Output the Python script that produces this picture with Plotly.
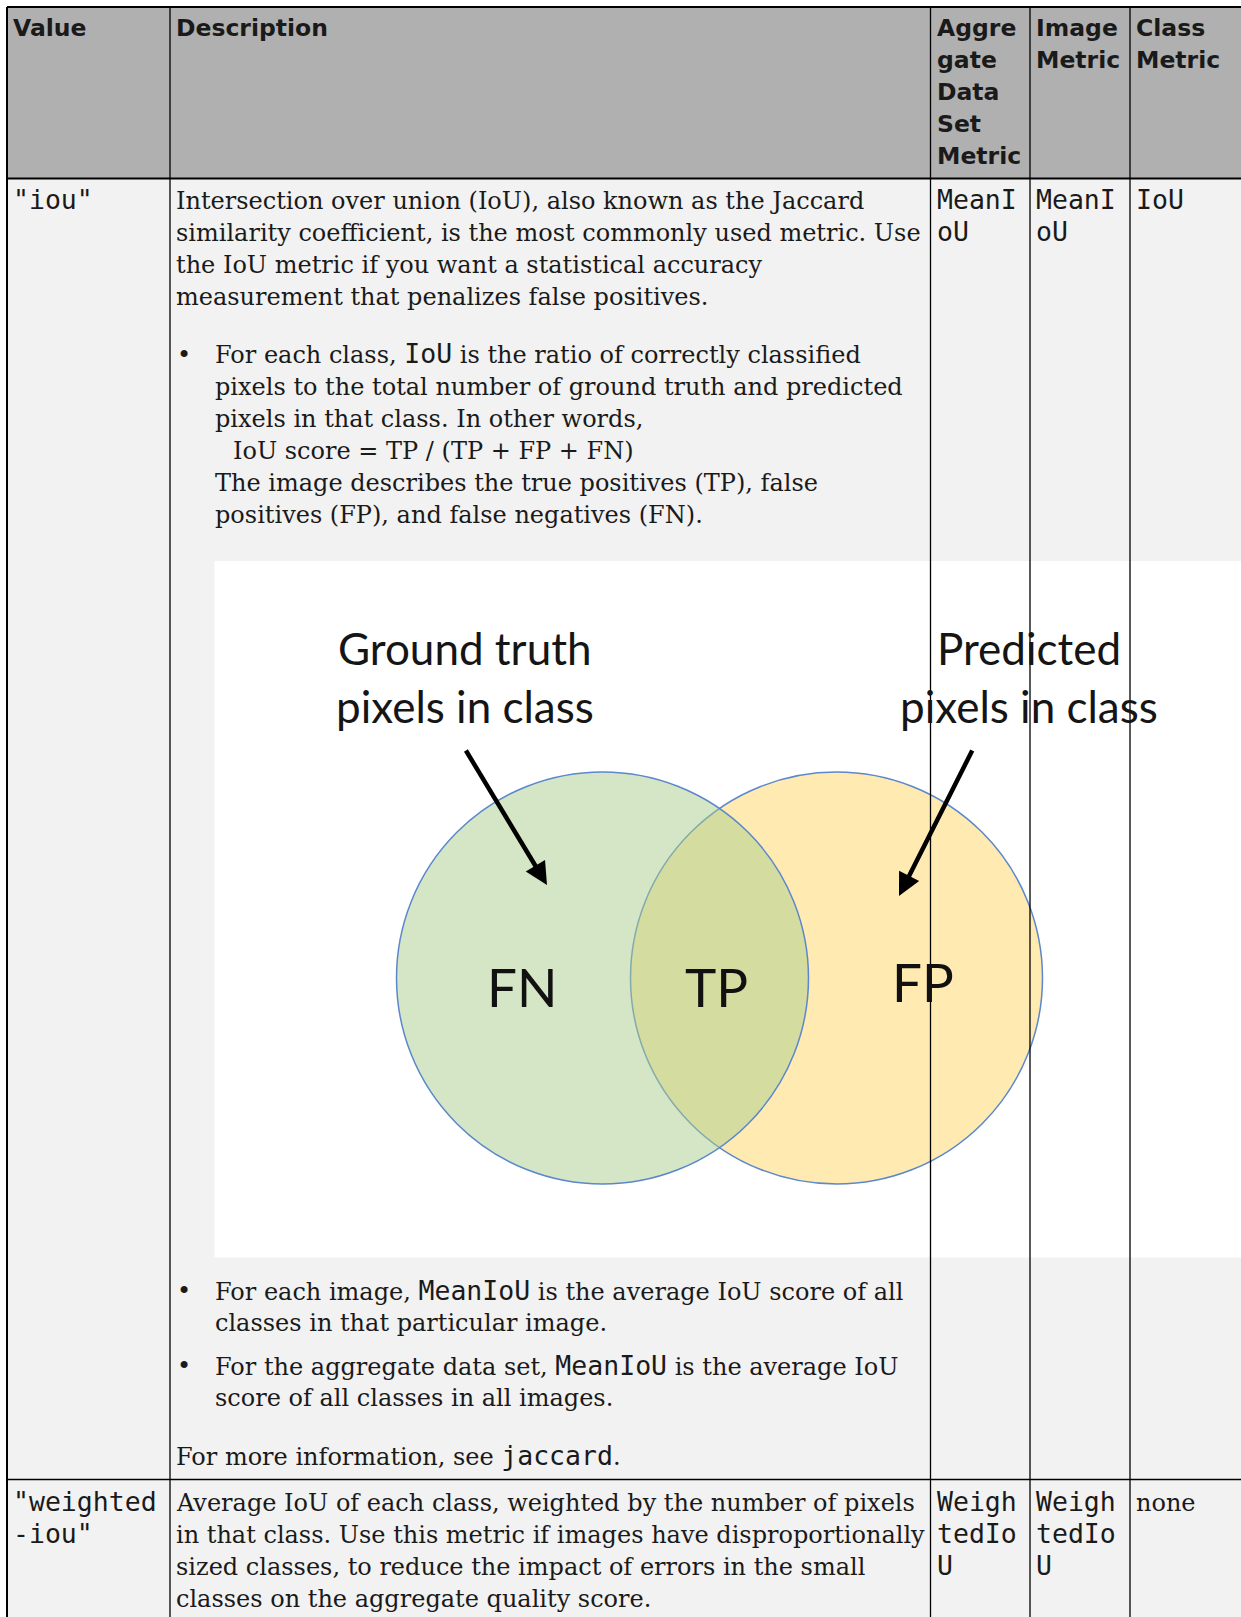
import re
import numpy as np
import plotly.graph_objects as go

# ---------------- table content ----------------
header_value = ["Value"]
header_desc = ["Description"]
header_agg = ["Aggre", "gate", "Data", "Set", "Metric"]
header_img = ["Image", "Metric"]
header_cls = ["Class", "Metric"]

iou_value = ['"iou"']
iou_intro = [
    "Intersection over union (IoU), also known as the Jaccard",
    "similarity coefficient, is the most commonly used metric. Use",
    "the IoU metric if you want a statistical accuracy",
    "measurement that penalizes false positives.",
]
iou_bullet_class = [
    "For each class, `IoU` is the ratio of correctly classified",
    "pixels to the total number of ground truth and predicted",
    "pixels in that class. In other words,",
    "  IoU score = TP / (TP + FP + FN)",
    "The image describes the true positives (TP), false",
    "positives (FP), and false negatives (FN).",
]
iou_bullet_image = [
    "For each image, `MeanIoU` is the average IoU score of all",
    "classes in that particular image.",
]
iou_bullet_agg = [
    "For the aggregate data set, `MeanIoU` is the average IoU",
    "score of all classes in all images.",
]
iou_more = ["For more information, see `jaccard`."]
iou_agg = ["MeanI", "oU"]
iou_img = ["MeanI", "oU"]
iou_cls = ["IoU"]

wiou_value = ['"weighted', '-iou"']
wiou_desc = [
    "Average IoU of each class, weighted by the number of pixels",
    "in that class. Use this metric if images have disproportionally",
    "sized classes, to reduce the impact of errors in the small",
    "classes on the aggregate quality score.",
]
wiou_agg = ["Weigh", "tedIo", "U"]
wiou_img = ["Weigh", "tedIo", "U"]
wiou_cls = ["none"]

venn_left_caption = ["Ground truth", "pixels in class"]
venn_right_caption = ["Predicted", "pixels in class"]
venn_regions = ["FN", "TP", "FP"]

# ---------------- layout constants (page pixels) ----------------
W, H = 1241, 1617
TOP, LEFT = 7, 7
HEAD_BOTTOM = 178.5
ROW1_BOTTOM = 1479.5
COL_LINES = [170, 930.5, 1030, 1130]
TX = [12.5, 175.5, 936.5, 1036, 1136]
BUL_X, BUL_TX = 177, 214.5
LH = 32.0

SERIF = "DejaVu Serif"
SANS = "DejaVu Sans"
MONO = "DejaVu Sans Mono"
VENN_FONT = "Lato"
S_SERIF, S_MONO, S_HEAD = 24, 26.5, 23.5
INK = "#1a1a1a"
ASC, DESC = 0.928, 0.236

HEAD_BG = "#B0B0B0"
BODY_BG = "#F2F2F2"
GREEN = "#A9CD8B"
YELLOW = "#FFEAB2"
BLUE = "#5B87CD"

fig = go.Figure()
fig.update_layout(
    width=W, height=H, margin=dict(l=0, r=0, t=0, b=0),
    paper_bgcolor="white", plot_bgcolor="white", showlegend=False,
    xaxis=dict(range=[0, W], visible=False, fixedrange=True),
    yaxis=dict(range=[H, 0], visible=False, fixedrange=True),
)

shapes = []


def rect(x0, y0, x1, y1, fill):
    shapes.append(dict(type="rect", xref="x", yref="y", x0=x0, y0=y0, x1=x1, y1=y1,
                       fillcolor=fill, line=dict(width=0), layer="above"))


def line(x0, y0, x1, y1, w=1.3, color="black"):
    shapes.append(dict(type="line", xref="x", yref="y", x0=x0, y0=y0, x1=x1, y1=y1,
                       line=dict(color=color, width=w), layer="above"))


def mono_markup(s):
    return re.sub(r"`([^`]+)`",
                  lambda m: '<span style="font-family:%s;font-size:%spx">%s</span>' % (MONO, S_MONO, m.group(1)),
                  s)


def text(x, base, s, family, size, color=INK, anchor="left", asc=ASC, desc=DESC,
         weight="normal", span_size=None):
    top = asc * size
    bot = desc * size
    if span_size:
        top = max(top, ASC * span_size)
        bot = max(bot, DESC * span_size)
    yc = base - (top - bot) / 2
    fig.add_annotation(x=x, y=yc, xref="x", yref="y", text=s, showarrow=False,
                       xanchor=anchor, yanchor="middle", borderpad=0, borderwidth=0,
                       font=dict(family=family, size=size, color=color, weight=weight))


def serif_line(x, base, s):
    has_mono = "`" in s
    text(x, base, mono_markup(s), SERIF, S_SERIF, span_size=S_MONO if has_mono else None)


def lines(x, base0, items, family, size, **kw):
    for i, s in enumerate(items):
        text(x, base0 + i * LH, s, family, size, **kw)


def serif_lines(x, base0, items):
    for i, s in enumerate(items):
        serif_line(x, base0 + i * LH, s)


# backgrounds
rect(LEFT, TOP, W + 5, HEAD_BOTTOM, HEAD_BG)
rect(LEFT, HEAD_BOTTOM, W + 5, H + 5, BODY_BG)

# embedded Venn image
IMG = (214.5, 561, W + 5, 1257.5)
rect(*IMG, "white")
C1, C2, CY, R = 602.5, 836.5, 978, 206
shapes.append(dict(type="circle", xref="x", yref="y", x0=C2 - R, y0=CY - R, x1=C2 + R, y1=CY + R,
                   fillcolor=YELLOW, line=dict(color=BLUE, width=1.5), layer="above"))
shapes.append(dict(type="circle", xref="x", yref="y", x0=C1 - R, y0=CY - R, x1=C1 + R, y1=CY + R,
                   fillcolor=GREEN, opacity=0.5, line=dict(width=0), layer="above"))
shapes.append(dict(type="circle", xref="x", yref="y", x0=C1 - R, y0=CY - R, x1=C1 + R, y1=CY + R,
                   fillcolor="rgba(0,0,0,0)", line=dict(color=BLUE, width=1.5), layer="above"))

# grid lines
line(LEFT, TOP, W + 5, TOP, 2)
line(LEFT, TOP, LEFT, H + 5, 2)
line(LEFT, HEAD_BOTTOM, W + 5, HEAD_BOTTOM, 1.8)
line(LEFT, ROW1_BOTTOM, W + 5, ROW1_BOTTOM, 1.5)
for cx in COL_LINES:
    line(cx, TOP, cx, H + 5, 1.3)

fig.update_layout(shapes=shapes)

# header
hb = 36.5
for x, items in zip(TX, [header_value, header_desc, header_agg, header_img, header_cls]):
    lines(x, hb, items, SANS, S_HEAD, weight="bold")

# row 1
r1 = 209
lines(TX[0], r1, iou_value, MONO, S_MONO)
serif_lines(TX[1], r1, iou_intro)
lines(TX[2], r1, iou_agg, MONO, S_MONO)
lines(TX[3], r1, iou_img, MONO, S_MONO)
lines(TX[4], r1, iou_cls, MONO, S_MONO)

b1 = 363
text(BUL_X, b1, "•", SERIF, S_SERIF)
for i, s in enumerate(iou_bullet_class):
    x = BUL_TX + (18 if s.startswith("  ") else 0)
    serif_line(x, b1 + i * LH, s.strip())

b2 = 1299.5
text(BUL_X, b2, "•", SERIF, S_SERIF)
serif_lines(BUL_TX, b2, iou_bullet_image)
b3 = 1374.5
text(BUL_X, b3, "•", SERIF, S_SERIF)
serif_lines(BUL_TX, b3, iou_bullet_agg)
serif_lines(TX[1], 1465, iou_more)

# row 2
r2 = 1511
lines(TX[0], r2, wiou_value, MONO, S_MONO)
serif_lines(TX[1], r2, wiou_desc)
lines(TX[2], r2, wiou_agg, MONO, S_MONO)
lines(TX[3], r2, wiou_img, MONO, S_MONO)
serif_lines(TX[4], r2, wiou_cls)

# Venn labels
LA, LD = 0.987, 0.213
for i, s in enumerate(venn_left_caption):
    text(464.5, 665 + i * 58, s, VENN_FONT, 44, color="#151515", anchor="center", asc=LA, desc=LD)
for i, s in enumerate(venn_right_caption):
    text(1029, 665 + i * 58, s, VENN_FONT, 44, color="#151515", anchor="center", asc=LA, desc=LD)
for (x, b), s in zip([(521.5, 1007), (716, 1007), (922.5, 1002)], venn_regions):
    text(x, b, s, VENN_FONT, 53, color="#111111", anchor="center", asc=LA, desc=LD)

# arrows
for (tx, ty, sx, sy) in [(547, 885, 465, 749), (899, 896, 973, 749)]:
    fig.add_annotation(x=tx, y=ty, ax=sx, ay=sy, xref="x", yref="y", axref="x", ayref="y",
                       text="", showarrow=True, arrowhead=2, arrowsize=1, arrowwidth=4.5,
                       arrowcolor="black", standoff=0)

fig.write_html("out.html", config={"displayModeBar": False},
               post_script="document.body.style.margin='0';document.body.style.overflow='hidden';")
